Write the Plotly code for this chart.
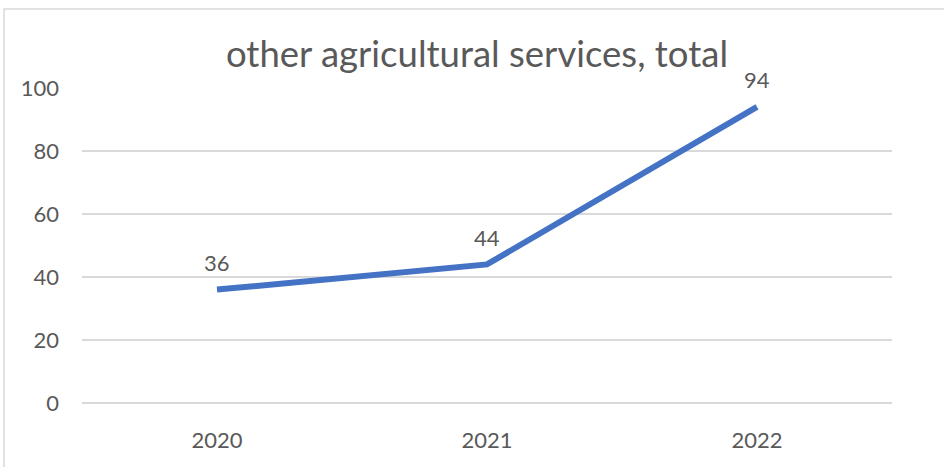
import plotly.graph_objects as go

# Series data
years = ["2020", "2021", "2022"]
values = [36, 44, 94]
y_ticks = [0, 20, 40, 60, 80, 100]

title_text = "other agricultural services, total"
font_family = "Lato, Open Sans, Noto Sans, sans-serif"
text_color = "#595959"
grid_color = "#d9d9d9"
line_color = "#4472C4"

fig = go.Figure()
fig.add_trace(go.Scatter(
    x=years,
    y=values,
    mode="lines",
    line=dict(color=line_color, width=6),
    hoverinfo="x+y",
    showlegend=False,
))

# Data labels above each point (category index used as x position)
for i, v in enumerate(values):
    fig.add_annotation(
        x=i, y=v, text=str(v), showarrow=False,
        yshift=27, font=dict(family=font_family, size=22, color=text_color),
    )

# Title
fig.add_annotation(
    text=title_text, xref="paper", yref="paper",
    x=0.488, y=1.0, yshift=35, xanchor="center", yanchor="middle",
    showarrow=False,
    font=dict(family=font_family, size=36.5, color=text_color),
)

# Chart area border
fig.add_shape(
    type="rect", xref="paper", yref="paper",
    x0=-78 / 810, x1=1.2, y0=-0.3, y1=1 + 79 / 315,
    line=dict(color=grid_color, width=1.5), fillcolor="rgba(0,0,0,0)",
    layer="below",
)

fig.update_layout(
    width=944, height=467,
    margin=dict(l=82, r=52, t=88, b=64),
    paper_bgcolor="white",
    plot_bgcolor="white",
    font=dict(family=font_family, color=text_color, size=22),
    xaxis=dict(
        type="category",
        range=[-0.5, 2.5],
        showgrid=False,
        showline=False,
        zeroline=False,
        ticks="",
        ticklabelstandoff=22,
        tickfont=dict(size=22, color=text_color),
    ),
    yaxis=dict(
        range=[0, 100],
        tickvals=y_ticks,
        showgrid=True,
        gridcolor=grid_color,
        gridwidth=1.5,
        zeroline=True,
        zerolinecolor=grid_color,
        zerolinewidth=1.5,
        showline=False,
        ticks="",
        ticklabelstandoff=22,
        tickfont=dict(size=22, color=text_color),
    ),
)

fig.write_html("out.html")
